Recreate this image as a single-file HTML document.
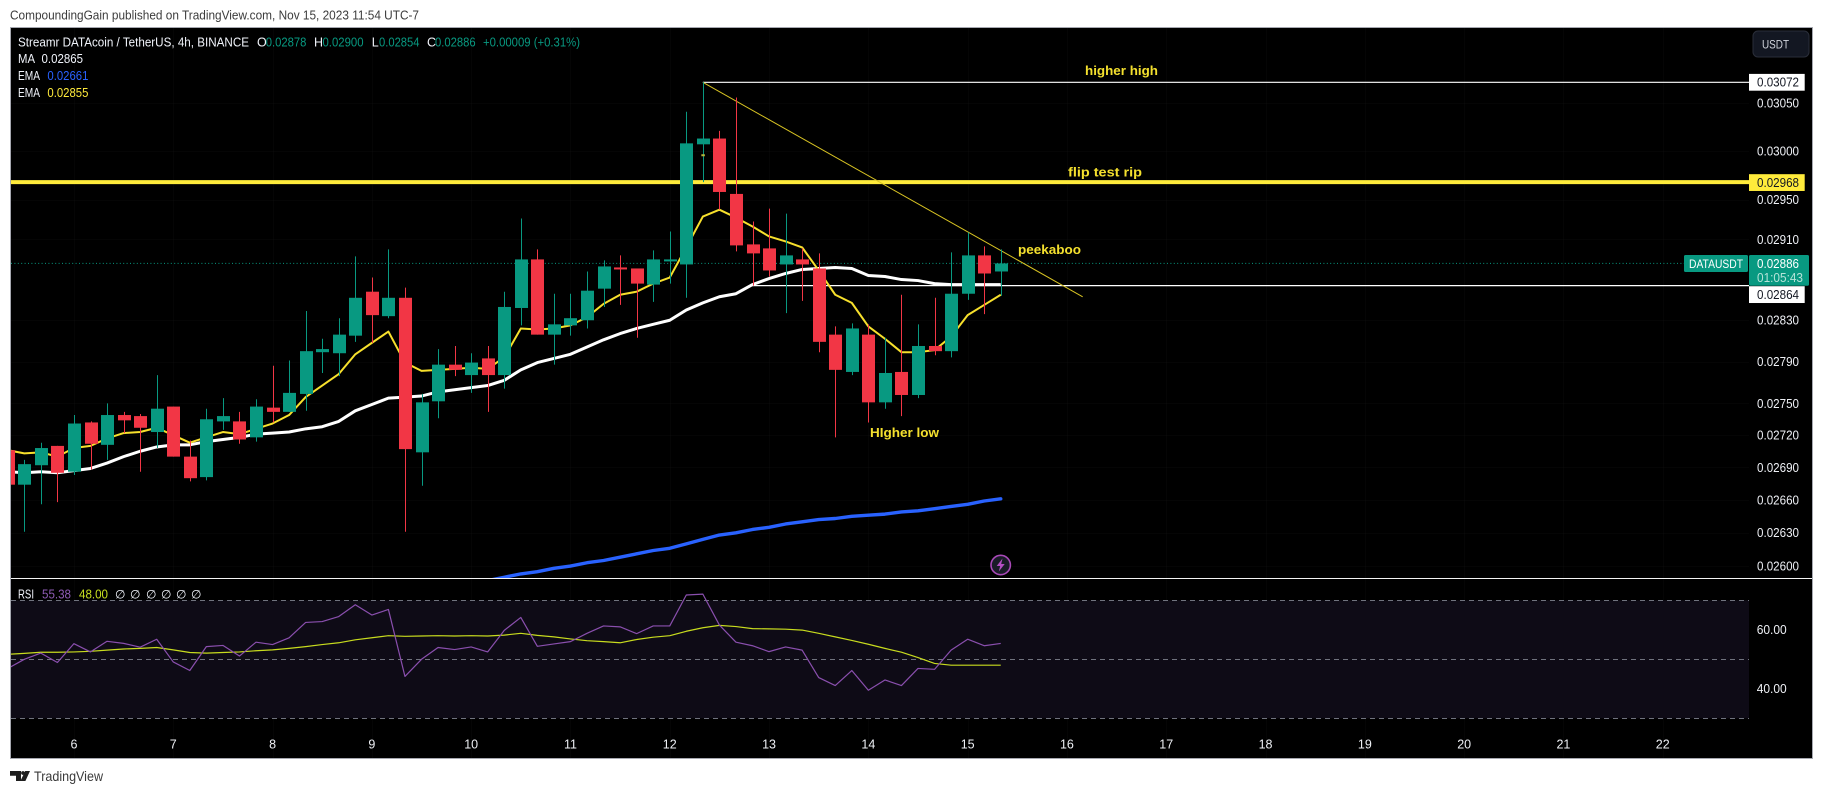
<!DOCTYPE html>
<html lang="en">
<head>
<meta charset="utf-8">
<title>DATAUSDT 4h chart</title>
<style>
html,body{margin:0;padding:0;background:#fff;width:1823px;height:794px;overflow:hidden}
svg{display:block}
text{font-family:"Liberation Sans","DejaVu Sans",sans-serif}
</style>
</head>
<body>
<svg id="chart" xmlns="http://www.w3.org/2000/svg" width="1823" height="794" viewBox="0 0 1823 794">
  <defs>
    <clipPath id="price-clip"><rect x="11" y="28" width="1801" height="550"/></clipPath>
    <clipPath id="rsi-clip"><rect x="11" y="579" width="1801" height="179"/></clipPath>
  </defs>

  <text x="10" y="19.5" font-size="12.5" fill="#3c3c3c" textLength="409" lengthAdjust="spacingAndGlyphs">CompoundingGain published on TradingView.com, Nov 15, 2023 11:54 UTC-7</text>

  <rect x="10.5" y="27.5" width="1802" height="731" fill="#000" stroke="#a6a8b0" stroke-width="1"/>

  <g id="grid"></g>
  <rect x="11" y="600.3" width="1738" height="118" fill="#0e0b16"/>
  <g id="rsi-levels"></g>
  <g id="rsi-series" clip-path="url(#rsi-clip)"></g>
  <g id="price-lines" clip-path="url(#price-clip)"></g>
  <g id="candles" clip-path="url(#price-clip)"></g>

  <line x1="11" x2="1812" y1="578.5" y2="578.5" stroke="#f4f4f4" stroke-width="1"/>

  <g id="axis-labels"></g>
  <g id="price-tags"></g>

  <g font-size="12.5" fill="#f0f3fa">
    <text x="18" y="46.5" textLength="231" lengthAdjust="spacingAndGlyphs">Streamr DATAcoin / TetherUS, 4h, BINANCE</text>
    <text x="257" y="46.5">O</text>
    <text x="265.7" y="46.5" fill="#089981" textLength="40.7" lengthAdjust="spacingAndGlyphs">0.02878</text>
    <text x="314" y="46.5">H</text>
    <text x="322.5" y="46.5" fill="#089981" textLength="41" lengthAdjust="spacingAndGlyphs">0.02900</text>
    <text x="371.7" y="46.5">L</text>
    <text x="379" y="46.5" fill="#089981" textLength="40.5" lengthAdjust="spacingAndGlyphs">0.02854</text>
    <text x="427" y="46.5">C</text>
    <text x="435" y="46.5" fill="#089981" textLength="40.7" lengthAdjust="spacingAndGlyphs">0.02886</text>
    <text x="483" y="46.5" fill="#089981" textLength="97" lengthAdjust="spacingAndGlyphs">+0.00009 (+0.31%)</text>
    <text x="18" y="63" textLength="17" lengthAdjust="spacingAndGlyphs">MA</text>
    <text x="41.5" y="63" textLength="41.5" lengthAdjust="spacingAndGlyphs">0.02865</text>
    <text x="18" y="80" textLength="22" lengthAdjust="spacingAndGlyphs">EMA</text>
    <text x="47.4" y="80" fill="#2962ff" textLength="41" lengthAdjust="spacingAndGlyphs">0.02661</text>
    <text x="18" y="97" textLength="22" lengthAdjust="spacingAndGlyphs">EMA</text>
    <text x="47.4" y="97" fill="#ffeb3b" textLength="41" lengthAdjust="spacingAndGlyphs">0.02855</text>
  </g>

  <g font-size="12.5">
    <text x="18" y="598.5" fill="#f0f3fa" textLength="16" lengthAdjust="spacingAndGlyphs">RSI</text>
    <text x="42" y="598.5" fill="#8e5bb5" textLength="29" lengthAdjust="spacingAndGlyphs">55.38</text>
    <text x="79" y="598.5" fill="#c8e020" textLength="29" lengthAdjust="spacingAndGlyphs">48.00</text>
    <text x="115" y="598.5" fill="#f0f3fa" font-size="12">∅</text>
    <text x="130" y="598.5" fill="#f0f3fa" font-size="12">∅</text>
    <text x="146" y="598.5" fill="#f0f3fa" font-size="12">∅</text>
    <text x="161" y="598.5" fill="#f0f3fa" font-size="12">∅</text>
    <text x="176" y="598.5" fill="#f0f3fa" font-size="12">∅</text>
    <text x="191" y="598.5" fill="#f0f3fa" font-size="12">∅</text>
  </g>

  <g font-size="13" font-weight="bold" fill="#f4e02e">
    <text x="1085" y="75" textLength="73" lengthAdjust="spacingAndGlyphs">higher high</text>
    <text x="1068" y="176.5" textLength="74" lengthAdjust="spacingAndGlyphs">flip test rip</text>
    <text x="1018" y="254" textLength="63" lengthAdjust="spacingAndGlyphs">peekaboo</text>
    <text x="870" y="437" textLength="69" lengthAdjust="spacingAndGlyphs">HIgher low</text>
  </g>

  <g>
    <rect x="1753" y="31" width="56" height="26" rx="5" fill="#131722" stroke="#2a2e39"/>
    <text x="1762" y="48.5" font-size="12" fill="#d1d4dc" textLength="27" lengthAdjust="spacingAndGlyphs">USDT</text>
  </g>

  <g>
    <circle cx="1000.7" cy="565" r="9.7" fill="#1a1c28" stroke="#a949b8" stroke-width="1.6"/>
    <polygon points="1002.5,558.5 996.7,566 1000.2,566 998.8,571.5 1004.7,564 1001.2,564" fill="#b44fc4"/>
  </g>

  <g fill="#1e1e1e">
    <path d="M10 771h11v10h-5v-5.2h-6zM25.2 771h4.8l-4.6 10h-5z"/>
    <circle cx="23" cy="773" r="1.9"/>
    <text x="34" y="781" font-size="14" fill="#3a3a3a" textLength="69" lengthAdjust="spacingAndGlyphs">TradingView</text>
  </g>
</svg>

<script>
// ---- Candle data: one value per 4h bar, starting on the 5th of the month ----
const opens = [0.02706,0.02674,0.02692,0.02710,0.02686,0.02732,0.02711,0.02739,0.02738,0.02723,0.02747,0.02700,0.02681,0.02733,0.02733,0.02718,0.02746,0.02742,0.02759,0.02799,0.02798,0.02815,0.02858,0.02834,0.02852,0.02704,0.02752,0.02787,0.02777,0.02793,0.02777,0.02842,0.02890,0.02816,0.02825,0.02830,0.02861,0.02882,0.02881,0.02865,0.02888,0.02885,0.03007,0.03013,0.02956,0.02905,0.02901,0.02885,0.02890,0.02881,0.02816,0.02780,0.02816,0.02751,0.02780,0.02758,0.02805,0.02800,0.02856,0.02894,0.02878];
const highs = [0.02711,0.02697,0.02713,0.02710,0.02739,0.02733,0.02750,0.02742,0.02740,0.02777,0.02747,0.02715,0.02745,0.02755,0.02742,0.02754,0.02786,0.02791,0.02839,0.02812,0.02832,0.02893,0.02872,0.02900,0.02862,0.02759,0.02802,0.02805,0.02798,0.02805,0.02858,0.02931,0.02900,0.02856,0.02856,0.02878,0.02889,0.02894,0.02881,0.02899,0.02918,0.03041,0.03072,0.03021,0.03056,0.02928,0.02941,0.02936,0.02901,0.02896,0.02824,0.02827,0.02826,0.02813,0.02855,0.02826,0.02852,0.02897,0.02917,0.02903,0.02900];
const lows = [0.02669,0.02631,0.02656,0.02658,0.02683,0.02688,0.02697,0.02722,0.02686,0.02708,0.02700,0.02677,0.02678,0.02725,0.02712,0.02714,0.02732,0.02742,0.02743,0.02779,0.02776,0.02809,0.02808,0.02832,0.02631,0.02673,0.02736,0.02776,0.02760,0.02742,0.02764,0.02825,0.02816,0.02787,0.02815,0.02822,0.02843,0.02845,0.02813,0.02848,0.02866,0.02852,0.02968,0.02940,0.02898,0.02864,0.02873,0.02837,0.02849,0.02799,0.02718,0.02777,0.02732,0.02745,0.02738,0.02755,0.02796,0.02794,0.02850,0.02836,0.02854];
const closes = [0.02674,0.02693,0.02708,0.02685,0.02731,0.02712,0.02739,0.02734,0.02727,0.02745,0.02700,0.02680,0.02735,0.02738,0.02716,0.02747,0.02742,0.02760,0.02800,0.02802,0.02816,0.02852,0.02835,0.02852,0.02707,0.02751,0.02787,0.02782,0.02789,0.02777,0.02843,0.02890,0.02816,0.02826,0.02832,0.02859,0.02883,0.02880,0.02866,0.02890,0.02890,0.03008,0.03013,0.02958,0.02904,0.02896,0.02879,0.02894,0.02885,0.02809,0.02782,0.02822,0.02751,0.02779,0.02758,0.02805,0.02800,0.02856,0.02894,0.02876,0.02886];

// ---- Moving averages ----
const emaFast = [0.02706,0.02703,0.02704,0.02700,0.02708,0.02710,0.02717,0.02722,0.02723,0.02727,0.02720,0.02713,0.02718,0.02723,0.02721,0.02726,0.02731,0.02739,0.02756,0.02767,0.02778,0.02797,0.02808,0.02819,0.02789,0.02781,0.02782,0.02783,0.02784,0.02783,0.02794,0.02822,0.02821,0.02822,0.02825,0.02833,0.02846,0.02855,0.02858,0.02866,0.02872,0.02902,0.02933,0.02940,0.02932,0.02923,0.02913,0.02908,0.02902,0.02879,0.02855,0.02847,0.02824,0.02812,0.02799,0.02799,0.02801,0.02814,0.02835,0.02845,0.02855];
const maSeries = [0.02686,0.02685,0.02686,0.02685,0.02687,0.02689,0.02694,0.02700,0.02705,0.02709,0.02711,0.02711,0.02714,0.02716,0.02718,0.02721,0.02722,0.02723,0.02726,0.02728,0.02733,0.02743,0.02749,0.02755,0.02756,0.02757,0.02761,0.02763,0.02765,0.02767,0.02772,0.02782,0.02789,0.02793,0.02797,0.02804,0.02811,0.02817,0.02822,0.02826,0.02830,0.02840,0.02847,0.02853,0.02856,0.02865,0.02871,0.02876,0.02880,0.02881,0.02882,0.02881,0.02874,0.02873,0.02870,0.02869,0.02866,0.02865,0.02865,0.02865,0.02865];
const emaSlowFirstBar = 29;
const emaSlow = [0.02587,0.02590,0.02593,0.02595,0.02598,0.02600,0.02603,0.02605,0.02608,0.02611,0.02614,0.02616,0.02620,0.02624,0.02628,0.02630,0.02633,0.02635,0.02638,0.02640,0.02642,0.02643,0.02645,0.02646,0.02647,0.02649,0.02650,0.02652,0.02654,0.02656,0.02659,0.02661];

// ---- RSI pane ----
const rsiValues = [46.9,50.0,52.1,48.9,55.3,52.5,56.1,55.4,54.1,56.8,49.1,46.2,54.3,54.7,51.1,55.8,55.0,57.3,62.5,62.8,64.5,68.5,65.0,66.9,44.2,50.0,54.0,53.3,54.2,52.5,59.8,64.2,54.4,55.2,56.0,58.8,61.3,61.0,58.7,61.3,61.3,71.8,72.1,61.6,55.8,54.6,52.6,54.2,53.1,43.8,41.1,46.2,39.5,43.0,41.1,46.9,46.6,53.1,56.8,54.6,55.38];
const rsiMa = [51.7,52.0,52.4,52.4,52.5,52.7,53.1,53.5,53.7,54.0,53.2,52.3,52.1,52.3,52.5,52.9,53.2,53.7,54.3,55.0,55.6,56.6,57.3,58.0,57.8,57.9,58.0,57.9,58.0,57.9,58.2,58.8,58.1,57.6,56.9,56.3,56.0,55.6,56.7,57.5,58.0,59.5,60.7,61.5,61.1,60.4,60.3,60.2,59.9,58.8,57.6,56.4,55.1,53.7,52.4,50.6,48.6,48.0,48.0,48.0,48.0];
const rsiLevels = [70,50,30];
const rsiTicks = [60,40];

// ---- Axes and drawn levels ----
const priceTicks = [0.0305,0.03,0.0295,0.0291,0.0283,0.0279,0.0275,0.0272,0.0269,0.0266,0.0263,0.026];
const dayLabels = [6,7,8,9,10,11,12,13,14,15,16,17,18,19,20,21,22];
const barsPerDay = 6;
const firstDayBar = 4;
const higherHighPrice = 0.03072;
const higherHighStartBar = 42;
const flipPrice = 0.02968;
const supportPrice = 0.02864;
const supportStartBar = 45;
const lastPrice = 0.02886;
const countdownLabel = '01:05:43';
const symbolLabel = 'DATAUSDT';
const trendBars = [42,64.95];
const trendPrices = [0.03072,0.02853];
const anchorDotBar = 42;
const anchorDotPrice = 0.03005;

// ---- Axis functions ----
function xScale(bar){ return 7.75 + 16.55 * bar; }
function yScale(price){ return 82.3 + 2900 * Math.log(0.03072 / price); }
function rsiY(value){ return 659.3 - (value - 50) * 2.95; }
function dayBar(day){ return firstDayBar + (day - dayLabels[0]) * barsPerDay; }

const NS = 'http://www.w3.org/2000/svg';
function mk(tag, parent, geom, text){
  const el = document.createElementNS(NS, tag);
  for (const k in geom) el.setAttribute(k, geom[k]);
  if (text !== undefined) el.textContent = text;
  parent.appendChild(el);
  return el;
}
function pointsFor(values, firstBar, yFn){
  return values.map((v, i) => xScale(firstBar + i).toFixed(2) + ',' + yFn(v).toFixed(2)).join(' ');
}

const gridG = document.getElementById('grid');
const rsiLevelG = document.getElementById('rsi-levels');
const rsiG = document.getElementById('rsi-series');
const linesG = document.getElementById('price-lines');
const candlesG = document.getElementById('candles');
const axisG = document.getElementById('axis-labels');
const tagsG = document.getElementById('price-tags');

// Grid
dayLabels.forEach(d => {
  const x = Math.round(xScale(dayBar(d))) + 0.5;
  const v = mk('line', gridG, {x1:x, x2:x, y1:28, y2:758, stroke:'#ffffff', 'stroke-opacity':0.02});
  
  
});
priceTicks.forEach(p => {
  const y = Math.round(yScale(p)) + 0.5;
  const h = mk('line', gridG, {x1:11, x2:1749, y1:y, y2:y, stroke:'#ffffff', 'stroke-opacity':0.018});
  
  
});

// RSI levels + series
rsiLevels.forEach(l => {
  const y = Math.round(rsiY(l)) + 0.5;
  const ln = mk('line', rsiLevelG, {x1:11, x2:1749, y1:y, y2:y, stroke:'#70737e', 'stroke-dasharray':'5 4'});
  
  
});
const rsiMaLine = mk('polyline', rsiG, {points:pointsFor(rsiMa, 0, rsiY), fill:'none', stroke:'#c8dc1e', 'stroke-width':1.2, 'stroke-linejoin':'round'});


const rsiLine = mk('polyline', rsiG, {points:pointsFor(rsiValues, 0, rsiY), fill:'none', stroke:'#8a4fae', 'stroke-width':1.2, 'stroke-linejoin':'round'});



// Horizontal drawn levels & price line
const lastLine = mk('line', linesG, {x1:11, x2:1684, y1:yScale(lastPrice), y2:yScale(lastPrice), stroke:'#089981', 'stroke-dasharray':'1 2.4'});



const blueLine = mk('polyline', linesG, {points:pointsFor(emaSlow, emaSlowFirstBar, yScale), fill:'none', stroke:'#2962ff', 'stroke-width':3.4, 'stroke-linejoin':'round', 'stroke-linecap':'round'});



const maLine = mk('polyline', linesG, {points:pointsFor(maSeries, 0, yScale), fill:'none', stroke:'#ffffff', 'stroke-width':3, 'stroke-linejoin':'round'});



const highLine = mk('line', linesG, {x1:xScale(higherHighStartBar), x2:1749, y1:yScale(higherHighPrice), y2:yScale(higherHighPrice), stroke:'#ffffff', 'stroke-width':1.2});



const supportLine = mk('line', linesG, {x1:xScale(supportStartBar), x2:1749, y1:yScale(supportPrice), y2:yScale(supportPrice), stroke:'#ffffff', 'stroke-width':1.2});



const flipLine = mk('line', linesG, {x1:11, x2:1749, y1:yScale(flipPrice), y2:yScale(flipPrice), stroke:'#ffeb3b', 'stroke-width':4});



const emaFastLine = mk('polyline', linesG, {points:pointsFor(emaFast, 0, yScale), fill:'none', stroke:'#f7e02c', 'stroke-width':2, 'stroke-linejoin':'round'});



const trendLine = mk('line', linesG, {x1:xScale(trendBars[0]), y1:yScale(trendPrices[0]), x2:xScale(trendBars[1]), y2:yScale(trendPrices[1]), stroke:'#d9c423', 'stroke-width':1});



// Candles
opens.forEach((o, i) => {
  const c = closes[i];
  const up = c >= o;
  const col = up ? '#089981' : '#f23645';
  const x = Math.round(xScale(i));
  const g = mk('g', candlesG, {});
  
  
  const wick = mk('line', g, {x1:x + 0.5, x2:x + 0.5, y1:yScale(highs[i]), y2:yScale(lows[i]), stroke:col, 'stroke-width':1});
  
  
  const top = yScale(Math.max(o, c));
  const bot = yScale(Math.min(o, c));
  const body = mk('rect', g, {x:x - 6, y:top, width:13, height:Math.max(bot - top, 1), fill:col});
  
  
});
const anchorDot = mk('rect', candlesG, {x:xScale(anchorDotBar) - 1.5, y:yScale(anchorDotPrice) + 8, width:3.5, height:2, fill:'#b6b53a'});



// Axis labels
priceTicks.forEach(p => {
  const t = mk('text', axisG, {x:1757, y:yScale(p) + 4.4, 'font-size':12.5, fill:'#eef0f5', textLength:42, lengthAdjust:'spacingAndGlyphs'}, p.toFixed(5));
  
  
});
rsiTicks.forEach(v => {
  const t = mk('text', axisG, {x:1756.7, y:rsiY(v) + 4.4, 'font-size':12.5, fill:'#eef0f5', textLength:30, lengthAdjust:'spacingAndGlyphs'}, v.toFixed(2));
  
  
});
dayLabels.forEach(d => {
  const t = mk('text', axisG, {x:xScale(dayBar(d)), y:748.5, 'font-size':12.5, fill:'#eef0f5', 'text-anchor':'middle'}, String(d));
  
  
});

// Price tags
const highTagY = yScale(higherHighPrice);
const highTagBox = mk('rect', tagsG, {x:1749, y:highTagY - 8.4, width:55.7, height:16.8, fill:'#ffffff'});


const highTagText = mk('text', tagsG, {x:1757, y:highTagY + 4.4, 'font-size':12.5, fill:'#131722', textLength:42, lengthAdjust:'spacingAndGlyphs'}, higherHighPrice.toFixed(5));



const flipTagY = yScale(flipPrice);
const flipTagBox = mk('rect', tagsG, {x:1749, y:flipTagY - 8, width:55.7, height:16.8, fill:'#ffeb3b'});


const flipTagText = mk('text', tagsG, {x:1757, y:flipTagY + 4.8, 'font-size':12.5, fill:'#131722', textLength:42, lengthAdjust:'spacingAndGlyphs'}, flipPrice.toFixed(5));



const supportTagY = yScale(supportPrice) + 9;
const supportTagBox = mk('rect', tagsG, {x:1749, y:supportTagY - 8.4, width:55.7, height:16.8, fill:'#ffffff'});


const supportTagText = mk('text', tagsG, {x:1757, y:supportTagY + 4.4, 'font-size':12.5, fill:'#131722', textLength:42, lengthAdjust:'spacingAndGlyphs'}, supportPrice.toFixed(5));



const lastY = yScale(lastPrice);
const symTag = mk('rect', tagsG, {x:1684, y:lastY - 8.4, width:64, height:17, rx:1.5, fill:'#089981'});


const symText = mk('text', tagsG, {x:1689, y:lastY + 4.4, 'font-size':12, fill:'#ffffff', textLength:54, lengthAdjust:'spacingAndGlyphs'}, symbolLabel);


const lastTag = mk('rect', tagsG, {x:1749, y:lastY - 8.4, width:60, height:30.7, rx:1.5, fill:'#089981'});


const lastText = mk('text', tagsG, {x:1757, y:lastY + 4.4, 'font-size':12.5, fill:'#ffffff', textLength:42, lengthAdjust:'spacingAndGlyphs'}, lastPrice.toFixed(5));


const countText = mk('text', tagsG, {x:1757, y:lastY + 18.8, 'font-size':12.5, fill:'#b5e3d8', textLength:46, lengthAdjust:'spacingAndGlyphs'}, countdownLabel);


</script>
</body>
</html>
